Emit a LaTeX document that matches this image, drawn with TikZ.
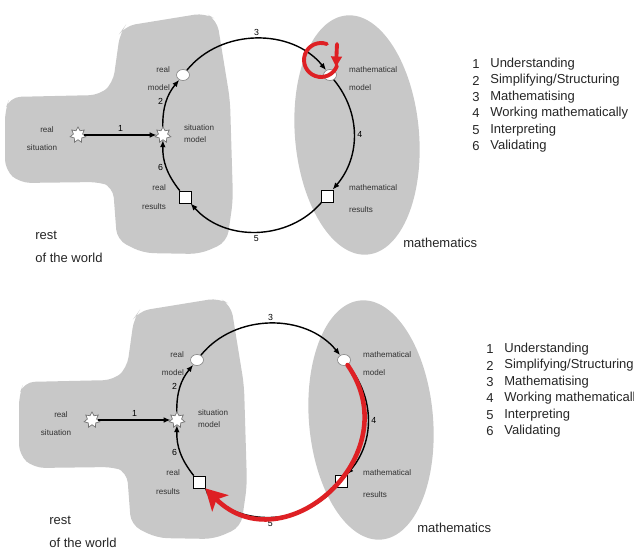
\documentclass[tikz,border=0pt]{standalone}
\usepackage{fontspec}
\setmainfont{Liberation Sans}
\usetikzlibrary{shapes.geometric,arrows.meta,calc}
\definecolor{blobgray}{RGB}{200,200,200}
\definecolor{markred}{RGB}{222,32,36}
\begin{document}
\begin{tikzpicture}[x=0.02cm,y=0.02cm,>={Latex[length=4pt,width=3.2pt]}]
            \tikzstyle{burst}=[star, star points=7, star point ratio=1.7, draw=black!55, fill=white, inner sep=0pt, minimum size=0.32cm]
            \tikzstyle{disc}=[ellipse, draw=black!45, fill=white, inner sep=0pt, minimum width=0.26cm, minimum height=0.22cm]
            \tikzstyle{resbox}=[rectangle, draw=black, fill=white, inner sep=0pt, minimum size=0.24cm]
            \tikzstyle{lbl}=[font=\fontsize{4.6}{5}\selectfont, text=black!80, inner sep=1pt]
            \tikzstyle{numlbl}=[font=\fontsize{5}{6}\selectfont, inner sep=1.5pt]
            \tikzstyle{biglbl}=[font=\fontsize{7.4}{8}\selectfont, text=black!85, inner sep=0pt, anchor=west]
            \tikzstyle{cyc}=[->, line width=0.8pt]
            \tikzstyle{redmark}=[draw=markred, line width=2.2pt, line cap=round]
            \useasboundingbox[fill=white] (0,0) rectangle (634,-550);
            \foreach \p/\dx/\dy in {t/0/0, b/14/-285} {
            \begin{scope}[shift={(\dx,\dy)}]
            % rest of the world and mathematics
            \fill[blobgray, rounded corners=6pt] (10,-97) -- (100,-95) -- (113,-83) -- (120,-33) -- (125,-26) -- (205,-13) -- (217,-20) -- (230,-100) -- (233,-200) -- (227,-242) -- (200,-254) -- (143,-253) -- (117,-240) -- (113,-187) -- (100,-182) -- (20,-183) -- (5,-170) -- (5,-110) -- cycle;
            \fill[blobgray, rotate around={5:(357,-135)}] (357,-135) ellipse [x radius=62, y radius=120];
            \node[burst] (\p-rs) at (78,-135) {};
            \node[burst] (\p-sm) at (163,-135) {};
            \node[disc] (\p-rm) at (183,-75) {};
            \node[disc] (\p-mm) at (330,-75) {};
            \node[resbox] (\p-mr) at (327,-196) {};
            \node[resbox] (\p-rr) at (185,-197) {};
            \node[lbl] (\p-rs-a) at (47,-130) {real};
            \node[lbl] (\p-rs-b) at (42,-148) {situation};
            \node[lbl, anchor=west] (\p-sm-a) at (182,-128) {situation};
            \node[lbl, anchor=west] (\p-sm-b) at (182,-140) {model};
            \node[lbl, anchor=east] (\p-rm-a) at (172,-70) {real};
            \node[lbl, anchor=east] (\p-rm-b) at (172,-88) {model};
            \node[lbl, anchor=east] (\p-rr-a) at (168,-188) {real};
            \node[lbl, anchor=east] (\p-rr-b) at (168,-207) {results};
            \node[lbl, anchor=west] (\p-mm-a) at (347,-70) {mathematical};
            \node[lbl, anchor=west] (\p-mm-b) at (347,-88) {model};
            \node[lbl, anchor=west] (\p-mr-a) at (347,-188) {mathematical};
            \node[lbl, anchor=west] (\p-mr-b) at (347,-210) {results};
            \node[biglbl] (\p-rest) at (35,-235) {rest};
            \node[biglbl] (\p-world) at (35,-258) {of the world};
            \node[biglbl] (\p-math) at (403,-243) {mathematics};
            \foreach \t [count=\n] in {Understanding, Simplifying/Structuring, Mathematising, Working mathematically, Interpreting, Validating} {
                \node[biglbl] (\p-n\n) at (472,{-64-16.5*(\n-1)}) {\n};
                \node[biglbl] (\p-s\n) at (490,{-64-16.5*(\n-1)}) {\t};
            }
            \path[cyc] (\p-rs) edge node[numlbl, above] {1} (\p-sm);
            \path[cyc] (\p-sm) edge[bend left=20] node[numlbl, left] {2} (\p-rm);
            \path[cyc] (\p-rm) edge[bend left=51] node[numlbl, above] {3} (\p-mm);
            \path[cyc] (\p-mm) edge[bend left=40] node[numlbl, right] {4} (\p-mr);
            \path[cyc] (\p-mr) edge[bend left=49] node[numlbl, below] {5} (\p-rr);
            \path[cyc] (\p-rr) edge[bend left=20] node[numlbl, left] {6} (\p-sm);
            \end{scope}
            }
            % red marks
            \coordinate (loopc) at ($(t-mm)+(-9,15)$);
            \draw[redmark] (loopc) ++(70:17) arc[start angle=70, end angle=340, radius=17];
            \draw[redmark, -{Triangle[length=6pt,width=6pt]}] ($(t-mm)+(7,31)$) -- ($(t-mm)+(6,8)$);
            \draw[redmark, line width=2.6pt, -{Stealth[length=12pt,width=13pt,inset=3pt]}] (b-mm) to[out=-55, in=-45, looseness=1.5] (b-rr);
        \end{tikzpicture}
\end{document}
